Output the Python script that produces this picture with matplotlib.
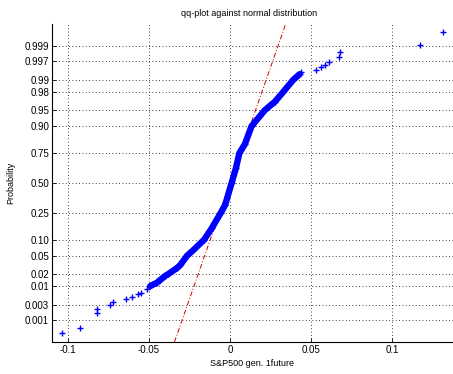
from statistics import NormalDist
import numpy as np
import matplotlib
matplotlib.use("Agg")
import matplotlib.pyplot as plt

plt.rcParams['font.family'] = ['Liberation Sans', 'DejaVu Sans']

# sparse tail observations (return, plotting probability)
tail_lo_x = [-0.1035, -0.0929, -0.0820, -0.0820, -0.0742, -0.0724, -0.0640,
             -0.0605, -0.0570, -0.0550, -0.0512]
tail_lo_p = [0.00036, 0.00052, 0.0017, 0.00226, 0.0030, 0.0037, 0.0045,
             0.0051, 0.0060, 0.0066, 0.0082]
tail_hi_x = [0.0441, 0.0529, 0.0564, 0.0584, 0.0611, 0.0672, 0.0677, 0.1173, 0.1316]
tail_hi_p = [0.99377, 0.99463, 0.99567, 0.99614, 0.99691, 0.99782, 0.99848,
             0.99908, 0.99968]

# dense body of the sample (drawn as a solid band of markers)
body_x = [-0.0492, -0.0451, -0.0400, -0.0380, -0.0330, -0.0307, -0.0266, -0.0226,
          -0.0160, -0.0113, -0.0057, -0.0030, 0.0010, 0.0037, 0.0058, 0.0092,
          0.0133, 0.0215, 0.0277, 0.0328, 0.0390, 0.0430]
body_p = [0.0100, 0.0122, 0.0180, 0.0200, 0.0270, 0.0320, 0.0500, 0.0650,
          0.1000, 0.1530, 0.2500, 0.3100, 0.5000, 0.6330, 0.7500, 0.8100,
          0.9000, 0.9500, 0.9667, 0.9800, 0.9900, 0.9930]

# quartiles used for the reference line
q1, q3 = -0.0064, 0.0065

prob_ticks = [0.001, 0.003, 0.01, 0.02, 0.05, 0.10, 0.25, 0.50, 0.75, 0.90,
              0.95, 0.98, 0.99, 0.997, 0.999]
prob_labels = ['0.001', '0.003', '0.01', '0.02', '0.05', '0.10', '0.25', '0.50',
               '0.75', '0.90', '0.95', '0.98', '0.99', '0.997', '0.999']
x_ticks = [-0.1, -0.05, 0, 0.05, 0.1]
x_labels = ['-0.1', '-0.05', '0', '0.05', '0.1']

nd = NormalDist()
def z(p):
    return np.array([nd.inv_cdf(v) for v in p])

fig = plt.figure(figsize=(4.53, 3.74), dpi=100)
ax = fig.add_axes([52/453, 32/374, 1 - 52/453, 318/374])

zlim = 3.59
# reference line through the quartiles, like normplot
zq = nd.inv_cdf(0.75)
mu = (q1 + q3) / 2
sig = (q3 - q1) / (2 * zq)
zz = np.array([-zlim, zlim])
ax.plot(mu + sig * zz, zz, color='#d00000', lw=0.7, dashes=(5, 2, 1, 2), zorder=2)

blue = '#0000ff'
ax.plot(body_x, z(body_p), color=blue, lw=4.6, solid_capstyle='round', zorder=3)
ax.plot(body_x, z(body_p), '+', color=blue, ms=5, mew=1, zorder=3)
ax.plot(tail_lo_x, z(tail_lo_p), '+', color=blue, ms=5, mew=1, zorder=3)
ax.plot(tail_hi_x, z(tail_hi_p), '+', color=blue, ms=5, mew=1, zorder=3)

ax.set_xlim(-0.1099, 0.1377)
ax.set_ylim(-zlim, zlim)
ax.set_xticks(x_ticks)
ax.set_xticklabels(x_labels)
ax.set_yticks(z(prob_ticks))
ax.set_yticklabels(prob_labels)

ax.grid(True, color='black', linestyle=(0, (1, 3)), lw=0.6)
ax.set_axisbelow(True)
for s in ['top', 'right']:
    ax.spines[s].set_visible(False)
for s in ['left', 'bottom']:
    ax.spines[s].set_linewidth(0.8)
ax.tick_params(direction='in', length=3, width=0.6, labelsize=7, pad=2)

ax.set_title('qq-plot against normal distribution', fontsize=6.5, x=0.491, pad=6)
ax.set_xlabel('S&P500 gen. 1future', fontsize=6.5, labelpad=3)
ax.set_ylabel('Probability', fontsize=6.5)
ax.yaxis.set_label_coords(-0.092, 0.5)

fig.savefig('out.png', dpi=100)
